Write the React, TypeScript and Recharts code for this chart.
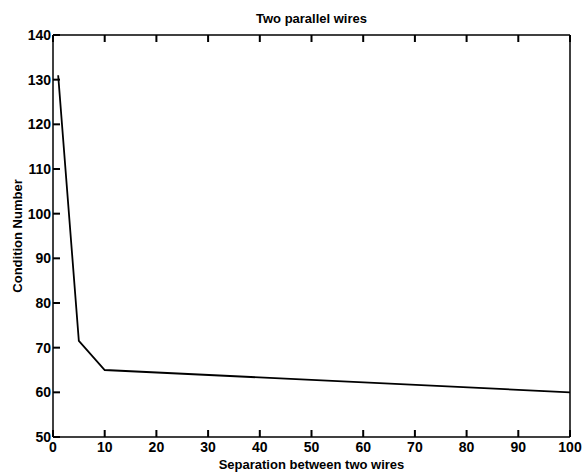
import { LineChart, Line, XAxis, YAxis, Label } from "recharts";

const separation = [1, 5, 10, 100];
const conditionNumber = [131, 71.5, 65, 60];
const xTicks = [0, 10, 20, 30, 40, 50, 60, 70, 80, 90, 100];
const yTicks = [50, 60, 70, 80, 90, 100, 110, 120, 130, 140];

const data = separation.map((s, i) => ({ sep: s, cond: conditionNumber[i] }));

const FONT = '"Liberation Sans", Arial, Helvetica, sans-serif';
const TICK_LEN = 6;
const TICK_W = 2;
const GAP = 10;

// inward ticks drawn as small filled rects from the tick anchor
const BottomTick = (p: any) => (
  <g>
    <rect x={p.x - TICK_W / 2} y={p.y - GAP - 1} width={TICK_W} height={TICK_LEN + 1} fill="#000" stroke="none" />
    <text x={p.x} y={p.y + 1} textAnchor="middle" dominantBaseline="hanging" fontSize={14} fontWeight={700} fontFamily={FONT} fill="#000">
      {p.payload.value}
    </text>
  </g>
);

const LeftTick = (p: any) => (
  <g>
    <rect x={p.x + GAP - TICK_LEN} y={p.y - TICK_W / 2} width={TICK_LEN + 1} height={TICK_W} fill="#000" stroke="none" />
    <text x={p.x + 2} y={p.y} textAnchor="end" dominantBaseline="central" fontSize={14} fontWeight={700} fontFamily={FONT} fill="#000">
      {p.payload.value}
    </text>
  </g>
);

const TopTick = (p: any) => (
  <rect x={p.x - TICK_W / 2} y={p.y + GAP - TICK_LEN} width={TICK_W} height={TICK_LEN + 1} fill="#000" stroke="none" />
);

const RightTick = (p: any) => (
  <rect x={p.x - GAP - 1} y={p.y - TICK_W / 2} width={TICK_LEN + 1} height={TICK_W} fill="#000" stroke="none" />
);

const YTitle = (props: any) => {
  const { x, y, height } = props.viewBox;
  const cx = x + 17;
  const cy = y + height / 2;
  return (
    <text
      x={cx}
      y={cy}
      transform={`rotate(-90, ${cx}, ${cy})`}
      textAnchor="middle"
      dominantBaseline="central"
      fontSize={13}
      fontWeight={700}
      fontFamily={FONT}
      fill="#000"
    >
      Condition Number
    </text>
  );
};

export default function App() {
  return (
    <div style={{ position: "absolute", left: 0, top: 0, background: "#fff" }}>
      <LineChart
        width={586}
        height={474}
        data={data}
        margin={{ top: 34, right: 15, bottom: 0, left: 0 }}
      >
        <XAxis
          xAxisId="bottom"
          dataKey="sep"
          type="number"
          domain={[0, 100]}
          ticks={xTicks}
          height={37}
          tickSize={-TICK_LEN}
          tickMargin={GAP}
          tickLine={false}
          tick={BottomTick}
          stroke="#000"
          strokeWidth={1.5}
          interval={0}
        >
          <Label
            value="Separation between two wires"
            position="insideBottom"
            offset={5}
            style={{ fill: "#000", fontSize: 13, fontWeight: 700, fontFamily: FONT }}
          />
        </XAxis>
        <XAxis
          xAxisId="top"
          orientation="top"
          dataKey="sep"
          type="number"
          domain={[0, 100]}
          ticks={xTicks}
          height={1}
          tickSize={-TICK_LEN}
          tickMargin={GAP}
          tickLine={false}
          tick={TopTick}
          stroke="#000"
          strokeWidth={1.5}
          interval={0}
        >
          <Label
            value="Two parallel wires"
            position="top"
            offset={11}
            style={{ fill: "#000", fontSize: 13, fontWeight: 700, fontFamily: FONT }}
          />
        </XAxis>
        <YAxis
          yAxisId="left"
          type="number"
          domain={[50, 140]}
          ticks={yTicks}
          width={53}
          tickSize={-TICK_LEN}
          tickMargin={GAP}
          tickLine={false}
          tick={LeftTick}
          stroke="#000"
          strokeWidth={1.5}
          interval={0}
        >
          <Label content={YTitle} />
        </YAxis>
        <YAxis
          yAxisId="right"
          orientation="right"
          type="number"
          domain={[50, 140]}
          ticks={yTicks}
          width={1}
          tickSize={-TICK_LEN}
          tickMargin={GAP}
          tickLine={false}
          tick={RightTick}
          stroke="#000"
          strokeWidth={1.5}
          interval={0}
        />
        <Line
          xAxisId="bottom"
          yAxisId="left"
          type="linear"
          dataKey="cond"
          stroke="#000"
          strokeWidth={1.8}
          dot={false}
          isAnimationActive={false}
        />
      </LineChart>
    </div>
  );
}
